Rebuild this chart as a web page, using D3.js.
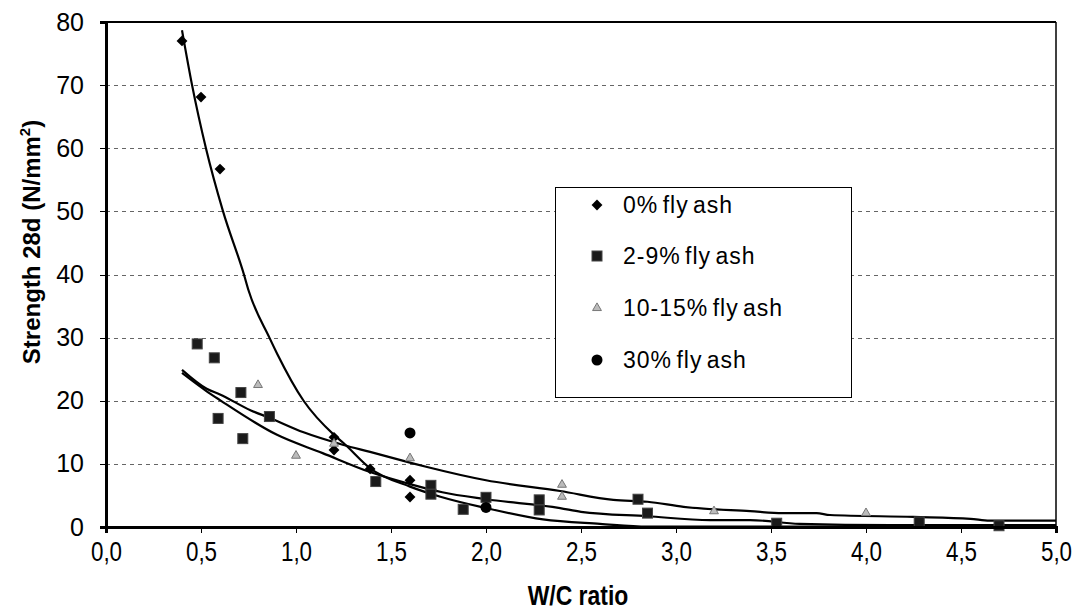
<!DOCTYPE html>
<html>
<head>
<meta charset="utf-8">
<script src="https://cdn.jsdelivr.net/npm/d3@7/dist/d3.min.js"></script>
<style>
    body { margin: 0; background: #fff; }
    .axis text { font-family: "Liberation Sans", Arial, sans-serif; fill: #000; }
    .axis path, .axis line { stroke: #000; shape-rendering: crispEdges; }
    .grid line { stroke: #666; stroke-dasharray: 4,4; shape-rendering: crispEdges; }
    .fit { fill: none; stroke: #000; stroke-width: 2.2px; }
    .title { font-family: "Liberation Sans", Arial, sans-serif; font-weight: bold; }
    .legend text { font-family: "Liberation Sans", Arial, sans-serif; font-size: 23px; letter-spacing: 1px; word-spacing: -3px; }
</style>
</head>
<body>
<div id="chart"></div>
<script>
    // series data: [W/C ratio, strength]
    var ash0 = [[0.40, 77.0], [0.50, 68.1], [0.60, 56.7], [1.20, 14.2], [1.20, 12.2],
        [1.39, 9.2], [1.60, 7.4], [1.60, 4.75]];
    var ash2to9 = [[0.48, 29.0], [0.57, 26.8], [0.59, 17.2], [0.71, 21.3], [0.72, 14.0],
        [0.86, 17.5], [1.42, 7.2], [1.71, 6.6], [1.71, 5.2], [1.88, 2.8], [2.00, 4.7],
        [2.28, 4.3], [2.28, 2.7], [2.80, 4.4], [2.85, 2.2], [3.53, 0.6], [4.28, 0.8], [4.70, 0.2]];
    var ash10to15 = [[0.80, 22.5], [1.00, 11.3], [1.20, 13.2], [1.60, 10.9], [2.40, 6.7],
        [2.40, 4.8], [3.20, 2.5], [4.00, 2.2]];
    var ash30 = [[1.60, 14.9], [2.00, 3.1]];

    // trend lines as drawn
    var fit0 = [[0.40, 78.7], [0.453, 70], [0.526, 60], [0.616, 50], [0.726, 40], [0.75, 37.5],
        [0.86, 30], [0.90, 27.5], [1.04, 20], [1.20, 14.6], [1.25, 13.3], [1.39, 9.3],
        [1.60, 6.4], [1.76, 4.8], [2.00, 3.0], [2.30, 1.2], [2.60, 0.5], [2.85, 0.05], [5.0, 0.05]];
    var fitA = [[0.40, 24.9], [0.53, 21.9], [0.60, 21.0], [0.76, 18.5], [0.86, 17.3], [1.04, 15.0],
        [1.25, 13.0], [1.39, 11.9], [1.60, 10.2], [1.69, 9.5], [2.00, 7.4], [2.39, 5.7],
        [2.67, 4.3], [2.85, 4.0], [3.04, 3.2], [3.39, 2.5], [3.56, 2.2], [3.74, 2.2], [3.81, 1.9],
        [4.25, 1.6], [4.55, 1.3], [4.65, 1.0], [5.0, 1.0]];
    var fitB = [[0.40, 24.4], [0.53, 21.5], [0.60, 20.1], [0.90, 14.6], [1.14, 11.7], [1.39, 8.7],
        [1.60, 6.8], [1.77, 5.5], [2.00, 4.4], [2.39, 3.0], [2.50, 2.4], [2.85, 1.7], [3.18, 1.1],
        [3.39, 1.1], [3.65, 0.5], [4.13, 0.3], [5.0, 0.3]];

    var xTicks = [0, 0.5, 1, 1.5, 2, 2.5, 3, 3.5, 4, 4.5, 5];
    var yTicks = [0, 10, 20, 30, 40, 50, 60, 70, 80];
    var legendLabels = ["0% fly ash", "2-9% fly ash", "10-15% fly ash", "30% fly ash"];

    var margin = {top: 22, right: 18, bottom: 84, left: 106},
        width = 1074 - margin.left - margin.right,
        height = 611 - margin.top - margin.bottom;

    var svg = d3.select("#chart").append("svg")
        .attr("width", 1074)
        .attr("height", 611);
    var g = svg.append("g").attr("transform", "translate(" + margin.left + "," + margin.top + ")");

    var xScale = d3.scaleLinear().domain([0, 5]).range([0, width]);
    var yScale = d3.scaleLinear().domain([0, 80]).range([height, 0]);

    // dashed grid
    g.append("g").attr("class", "grid")
        .selectAll("line").data(yTicks.filter(function (d) { return d > 0 && d < 80; })).enter()
        .append("line")
        .attr("x1", 0).attr("x2", width)
        .attr("y1", function (d) { return Math.round(yScale(d)) + 0.5; })
        .attr("y2", function (d) { return Math.round(yScale(d)) + 0.5; });

    // frame top/right
    g.append("line").attr("x1", 0).attr("x2", width).attr("y1", 0).attr("y2", 0)
        .attr("stroke", "#000").attr("stroke-width", 2);
    g.append("line").attr("x1", width).attr("x2", width).attr("y1", 0).attr("y2", height)
        .attr("stroke", "#000").attr("stroke-width", 1.5);

    var line = d3.line()
        .curve(d3.curveMonotoneX)
        .x(function (d) { return xScale(d[0]); })
        .y(function (d) { return yScale(d[1]); });

    [fit0, fitA, fitB].forEach(function (f) {
        g.append("path").datum(f).attr("class", "fit").attr("d", line);
    });

    // markers
    var diamond = d3.symbol().type(d3.symbolDiamond2).size(75);
    var tri = d3.symbol().type(d3.symbolTriangle).size(34);

    g.selectAll(".d0").data(ash0).enter().append("path")
        .attr("class", "d0")
        .attr("d", diamond)
        .attr("fill", "#000")
        .attr("transform", function (d) { return "translate(" + xScale(d[0]) + "," + yScale(d[1]) + ")"; });

    g.selectAll(".sq").data(ash2to9).enter().append("rect")
        .attr("class", "sq")
        .attr("x", function (d) { return xScale(d[0]) - 5; })
        .attr("y", function (d) { return yScale(d[1]) - 5; })
        .attr("width", 10).attr("height", 10)
        .attr("fill", "#1a1a1a").attr("stroke", "#444").attr("stroke-width", 1);

    g.selectAll(".tr").data(ash10to15).enter().append("path")
        .attr("class", "tr")
        .attr("d", tri)
        .attr("fill", "#bbb").attr("stroke", "#777").attr("stroke-width", 1)
        .attr("transform", function (d) { return "translate(" + xScale(d[0]) + "," + yScale(d[1]) + ")"; });

    g.selectAll(".ci").data(ash30).enter().append("circle")
        .attr("class", "ci")
        .attr("r", 5.5)
        .attr("cx", function (d) { return xScale(d[0]); })
        .attr("cy", function (d) { return yScale(d[1]); })
        .attr("fill", "#000");

    // axes
    var xAxis = d3.axisBottom(xScale).tickValues(xTicks).tickSize(6).tickPadding(8)
        .tickFormat(function (d) { return d3.format(".1f")(d).replace(".", ","); });
    var yAxis = d3.axisLeft(yScale).tickValues(yTicks).tickSize(6).tickPadding(16);

    var gx = g.append("g").attr("class", "x axis")
        .attr("transform", "translate(0," + height + ")").call(xAxis);
    gx.select(".domain").attr("stroke-width", 2.5);
    // condensed look of the original tick labels
    gx.selectAll("text").attr("font-size", "28px").attr("transform", "scale(0.8,1)");

    var gy = g.append("g").attr("class", "y axis").call(yAxis);
    gy.select(".domain").attr("stroke-width", 2.5);
    gy.selectAll("text").attr("font-size", "25px");

    // axis titles
    var yTitle = svg.append("text").attr("class", "title")
        .attr("transform", "translate(40," + 242 + ") rotate(-90)")
        .attr("text-anchor", "middle")
        .attr("font-size", "24px");
    yTitle.append("tspan").text("Strength 28d (N/mm");
    yTitle.append("tspan").attr("font-size", "15px").attr("dy", "-10").text("2");
    yTitle.append("tspan").attr("dy", "10").text(")");

    svg.append("text").attr("class", "title")
        .attr("transform", "translate(" + (margin.left + width / 2 - 3) + ",605) scale(0.85,1)")
        .attr("text-anchor", "middle")
        .attr("font-size", "27px")
        .text("W/C ratio");

    // legend
    var lg = svg.append("g").attr("class", "legend");
    lg.append("rect").attr("x", 555.5).attr("y", 187.5).attr("width", 296).attr("height", 210)
        .attr("fill", "#fff").attr("stroke", "#000").attr("stroke-width", 1);
    var rowY = [205, 256, 308, 360];
    lg.append("path").attr("d", diamond).attr("transform", "translate(597," + rowY[0] + ")");
    lg.append("rect").attr("x", 592).attr("y", rowY[1] - 5).attr("width", 10).attr("height", 10)
        .attr("fill", "#1a1a1a").attr("stroke", "#444");
    lg.append("path").attr("d", tri).attr("fill", "#bbb").attr("stroke", "#777")
        .attr("transform", "translate(597," + rowY[2] + ")");
    lg.append("circle").attr("cx", 597).attr("cy", rowY[3]).attr("r", 5.5).attr("fill", "#000");
    lg.selectAll(".lt").data(legendLabels).enter().append("text")
        .attr("class", "lt")
        .attr("x", 623)
        .attr("y", function (d, i) { return rowY[i] + 8; })
        .text(function (d) { return d; });
</script>
</body>
</html>
